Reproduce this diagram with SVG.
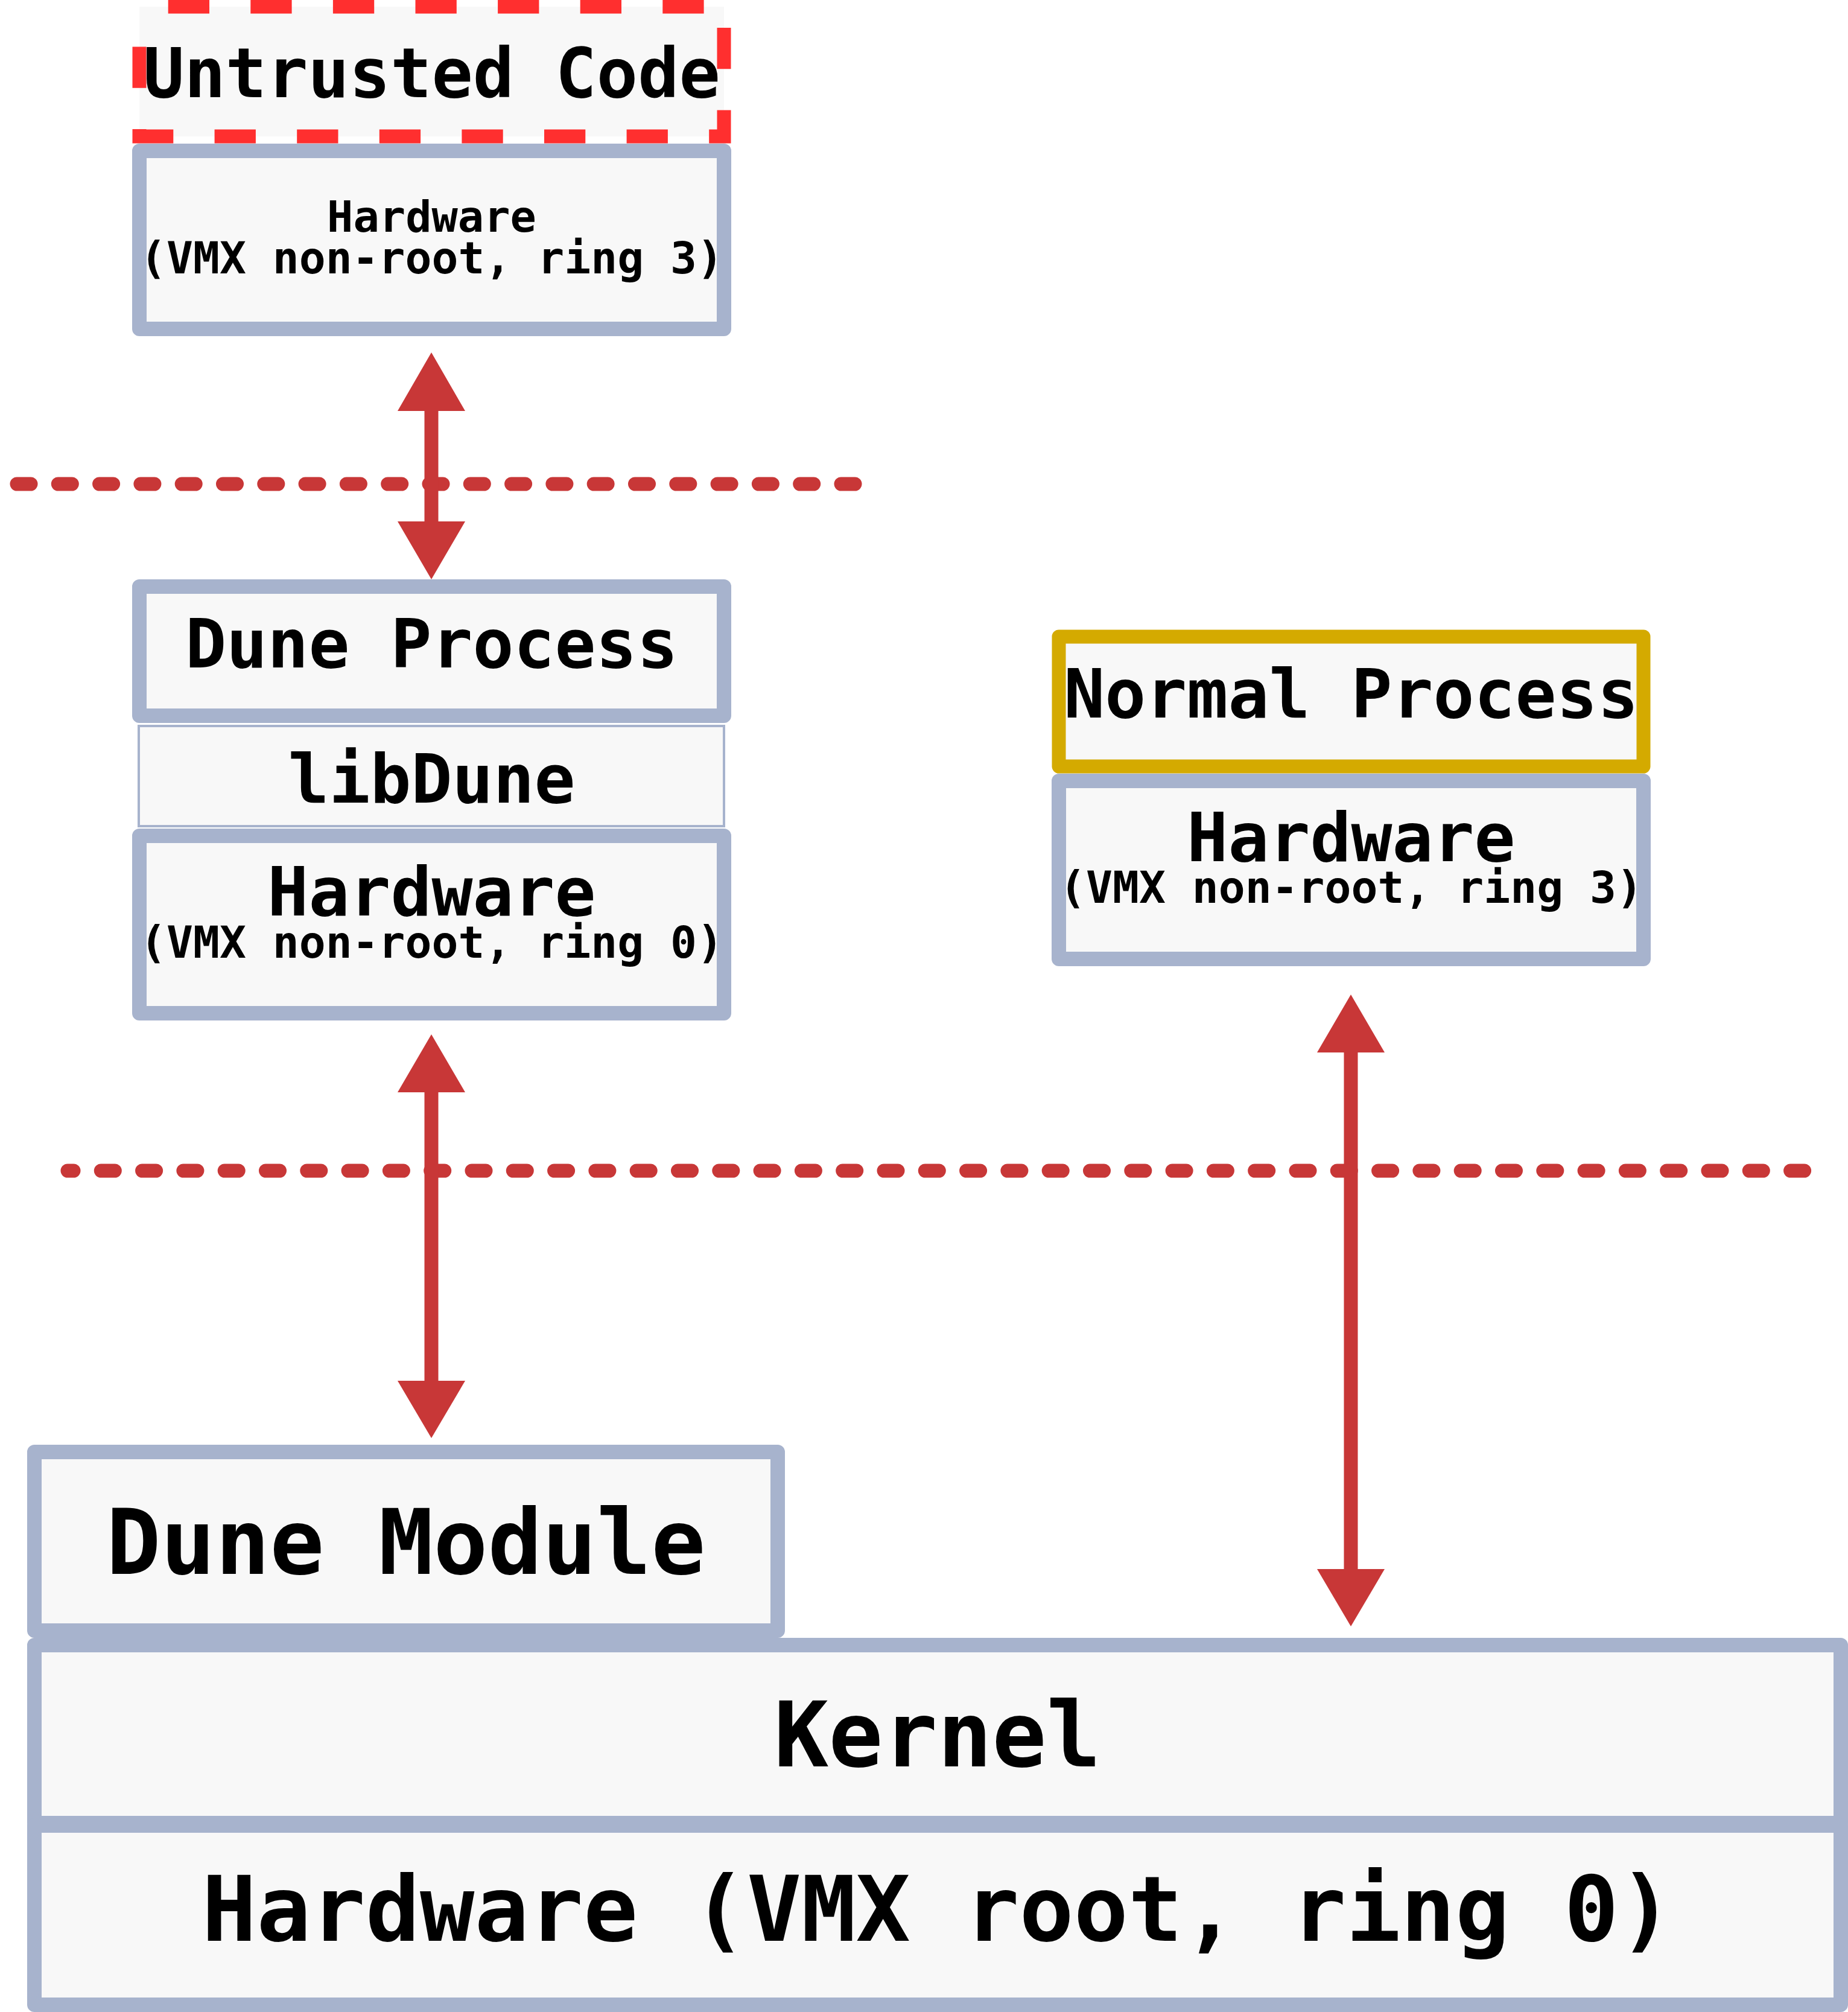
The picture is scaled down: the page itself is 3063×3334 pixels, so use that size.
<svg xmlns="http://www.w3.org/2000/svg" width="3063" height="3334" viewBox="0 0 3063 3334">
<style>
.box{fill:#f8f8f8;stroke:#a7b3cd;stroke-width:24;stroke-linejoin:round}
.thin{fill:#f8f8f8;stroke:#a7b3cd;stroke-width:4}
.gold{fill:#f8f8f8;stroke:#d4aa00;stroke-width:23;stroke-linejoin:round}
.untr{fill:#f8f8f8;stroke:#ff2f2f;stroke-width:23;stroke-dasharray:68.3 68.3;stroke-dashoffset:88.9}
.t{font-family:"DejaVu Sans Mono","Liberation Mono",monospace;font-weight:bold;fill:#000;text-anchor:middle}
.sep{fill:none;stroke:#c83737;stroke-width:23;stroke-linecap:round;stroke-dasharray:23 45.3}
.shaft{stroke:#c83737;stroke-width:23;fill:none}
.head{fill:#c83737}
</style>
<rect width="3063" height="3334" fill="#ffffff"/>
<g id="separators">
<line class="sep" x1="28" y1="802" x2="1420" y2="802"/>
<line class="sep" x1="112" y1="1940" x2="2996" y2="1940" style="stroke-dashoffset:13"/>
</g>
<g id="untrusted-code">
<rect class="untr" x="231" y="11" width="969" height="215"/>
<text class="t" x="715.5" y="161" font-size="113.5">Untrusted Code</text>
</g>
<g id="hardware-untrusted">
<rect class="box" x="231" y="250" width="969" height="295"/>
<text class="t" x="715.5" y="384" font-size="72">Hardware</text>
<text class="t" x="715.5" y="453" font-size="73">(VMX non-root, ring 3)</text>
</g>
<g id="dune-process">
<rect class="box" x="231" y="972" width="969" height="214"/>
<text class="t" x="715.5" y="1106" font-size="113">Dune Process</text>
</g>
<g id="libdune">
<rect class="thin" x="230" y="1203" width="970" height="166"/>
<text class="t" x="715.5" y="1330" font-size="113">libDune</text>
</g>
<g id="hardware-dune">
<rect class="box" x="231" y="1385" width="969" height="294"/>
<text class="t" x="715.5" y="1517" font-size="113">Hardware</text>
<text class="t" x="715.5" y="1587" font-size="73">(VMX non-root, ring 0)</text>
</g>
<g id="normal-process">
<rect class="gold" x="1755" y="1055" width="969" height="215"/>
<text class="t" x="2239.5" y="1189" font-size="113">Normal Process</text>
</g>
<g id="hardware-normal">
<rect class="box" x="1755" y="1294" width="969" height="295"/>
<text class="t" x="2239.5" y="1427" font-size="113">Hardware</text>
<text class="t" x="2239.5" y="1496" font-size="73">(VMX non-root, ring 3)</text>
</g>
<g id="dune-module">
<rect class="box" x="57" y="2406" width="1232" height="296"/>
<text class="t" x="673" y="2608" font-size="150">Dune Module</text>
</g>
<g id="kernel">
<rect class="box" x="57" y="2726" width="2994" height="295"/>
<text class="t" x="1554" y="2927" font-size="150">Kernel</text>
</g>
<g id="hardware-root">
<rect class="box" x="57" y="3025" width="2994" height="297"/>
<text class="t" x="1554" y="3216" font-size="150">Hardware (VMX root, ring 0)</text>
</g>
<g id="connectors">
<line class="shaft" x1="715" y1="675" x2="715" y2="870"/>
<polygon class="head" points="715,584 771,681 659,681"/>
<polygon class="head" points="715,960 771,864 659,864"/>
<line class="shaft" x1="715" y1="1805" x2="715" y2="2293"/>
<polygon class="head" points="715,1714 771,1810 659,1810"/>
<polygon class="head" points="715,2383 771,2288 659,2288"/>
<line class="shaft" x1="2239" y1="1738" x2="2239" y2="2606"/>
<polygon class="head" points="2239,1648 2295,1744 2183,1744"/>
<polygon class="head" points="2239,2695 2295,2600 2183,2600"/>
</g>
</svg>
